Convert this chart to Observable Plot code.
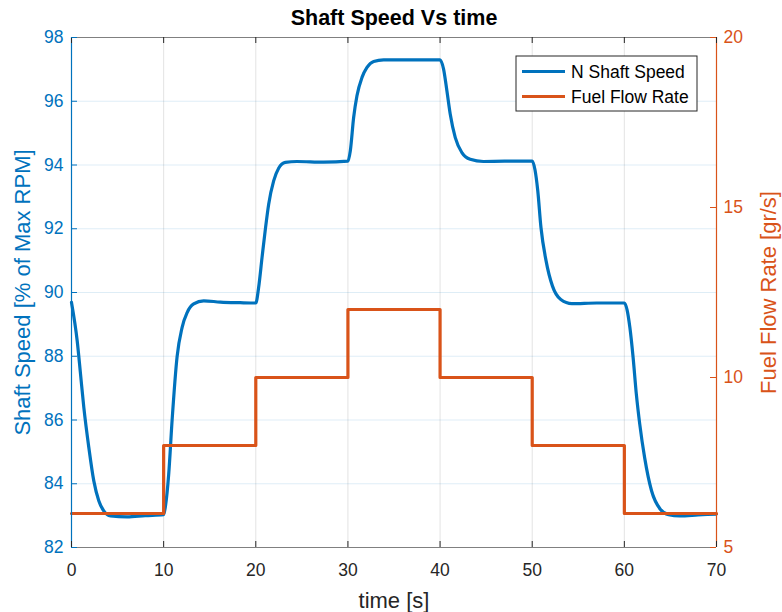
<!DOCTYPE html>
<html>
<head>
<meta charset="utf-8">
<script src="https://cdn.jsdelivr.net/npm/d3@7"></script>
<script src="https://cdn.jsdelivr.net/npm/@observablehq/plot@0.6"></script>
<style>
  html, body { margin: 0; padding: 0; background: #fff; }
</style>
</head>
<body>
<div id="chart"></div>
<script>
// ---- data ----
const speedT = [0, 0.62, 0.98, 1.34, 1.88, 2.42, 2.96, 3.5, 4.23, 6.04, 8, 10,
  10.2, 10.55, 10.92, 11.46, 12.0, 12.55, 13.26, 14.35, 16.16, 18.3,
  20, 20.31, 20.68, 21.04, 21.4, 21.94, 22.48, 23.2, 24.47, 27.36,
  30, 30.26, 30.62, 30.98, 31.53, 32.07, 32.79, 33.87, 37,
  40, 40.38, 40.74, 41.1, 41.65, 42.37, 43.27, 44.7, 47,
  50, 50.3, 50.6, 50.95, 51.5, 52.2, 53.1, 54.3, 57,
  60, 60.3, 60.6, 60.95, 61.3, 61.67, 62.2, 62.95, 63.9, 64.8, 66, 68, 70];
const speedV = [89.69, 88.48, 87.44, 86.39, 85.14, 84.09, 83.47, 83.15, 82.99, 82.96, 83.0, 83.03,
  83.3, 84.3, 86.0, 87.99, 88.9, 89.37, 89.64, 89.74, 89.70, 89.68,
  89.67, 90.16, 91.1, 91.99, 92.77, 93.5, 93.9, 94.08, 94.11, 94.09,
  94.12, 94.45, 95.49, 96.17, 96.75, 97.06, 97.25, 97.30, 97.30,
  97.30, 97.01, 96.33, 95.6, 94.86, 94.39, 94.18, 94.11, 94.12,
  94.12, 93.85, 93.2, 92.04, 91.0, 90.2, 89.78, 89.65, 89.67,
  89.67, 89.45, 88.9, 87.96, 86.81, 85.87, 84.82, 83.78, 83.2, 83.03, 82.99, 83.02, 83.05];

const fuelT = [0, 10, 20, 30, 40, 50, 60, 70];
const fuelV = [6, 8, 10, 12, 10, 8, 6, 6];

const xTicks = [0, 10, 20, 30, 40, 50, 60, 70];
const leftTicks = [82, 84, 86, 88, 90, 92, 94, 96, 98];
const rightTicks = [5, 10, 15, 20];
const leftDomain = [82, 98];
const rightDomain = [5, 20];

const titleText = "Shaft Speed Vs time";
const xLabel = "time [s]";
const leftLabel = "Shaft Speed [% of Max RPM]";
const rightLabel = "Fuel Flow Rate [gr/s]";
const seriesNames = ["N Shaft Speed", "Fuel Flow Rate"];

// ---- build tables ----
const BLUE = "#0072BD", ORANGE = "#D95319";
const speed = speedT.map((t, i) => ({t, v: speedV[i]}));
const fuel = fuelT.map((t, i) => ({t, f: fuelV[i]}));
// map the right-hand (fuel) scale onto the left y scale
const toLeft = f => leftDomain[0] + (f - rightDomain[0]) * (leftDomain[1] - leftDomain[0]) / (rightDomain[1] - rightDomain[0]);

const W = 782, H = 612;
const mL = 71, mR = 66, mT = 37, mB = 65;
const innerW = W - mL - mR, innerH = H - mT - mB;
const FONT = "'Liberation Sans', Arial, Helvetica, sans-serif";
const TICK = 6;

const chart = Plot.plot({
  width: W, height: H,
  marginLeft: mL, marginRight: mR, marginTop: mT, marginBottom: mB,
  style: {fontFamily: FONT, background: "#fff", overflow: "visible"},
  x: {domain: [0, 70]},
  y: {domain: leftDomain},
  marks: [
    Plot.gridX(xTicks, {stroke: "#262626", strokeOpacity: 0.13, strokeWidth: 1}),
    Plot.gridY(leftTicks, {stroke: BLUE, strokeOpacity: 0.13, strokeWidth: 1}),
    // data
    Plot.line(speed, {x: "t", y: "v", stroke: BLUE, strokeWidth: 3.2, curve: "monotone-x"}),
    Plot.line(fuel, {x: "t", y: d => toLeft(d.f), stroke: ORANGE, strokeWidth: 3.2, curve: "step-after"}),
    // box lines
    Plot.ruleY([leftDomain[0]], {stroke: "#808080", strokeWidth: 1.2}),
    Plot.ruleY([leftDomain[1]], {stroke: "#808080", strokeWidth: 1.2}),
    Plot.ruleX([0], {stroke: BLUE, strokeWidth: 1.2}),
    Plot.ruleX([70], {stroke: ORANGE, strokeWidth: 1.2}),
    // inward tick marks
    Plot.ruleX(xTicks, {stroke: "#262626", strokeWidth: 1, insetTop: innerH - TICK}),
    Plot.ruleX(xTicks, {stroke: "#262626", strokeWidth: 1, insetBottom: innerH - TICK}),
    Plot.ruleY(leftTicks, {stroke: BLUE, strokeWidth: 1, insetRight: innerW - TICK}),
    Plot.ruleY(rightTicks.map(toLeft), {stroke: ORANGE, strokeWidth: 1, insetLeft: innerW - TICK}),
    // tick labels
    Plot.axisX({ticks: xTicks, tickSize: 0, tickPadding: 16, fontSize: 17.5, color: "#262626", label: null}),
    Plot.axisY({anchor: "left", ticks: leftTicks, tickSize: 0, tickPadding: 8, fontSize: 17.5, color: BLUE, label: null}),
    Plot.axisY({anchor: "right", ticks: rightTicks.map(toLeft), tickFormat: (d, i) => String(rightTicks[i]),
      tickSize: 0, tickPadding: 7, fontSize: 17.5, color: ORANGE, label: null}),
    // titles
    Plot.text([titleText], {text: d => d, frameAnchor: "top", dy: -19, fontSize: 21.5, fontWeight: "bold", fill: "#000", textAnchor: "middle", lineAnchor: "middle"}),
    Plot.text([xLabel], {text: d => d, frameAnchor: "bottom", dy: 53, fontSize: 22, fill: "#262626", textAnchor: "middle", lineAnchor: "middle"}),
    Plot.text([leftLabel], {text: d => d, frameAnchor: "left", dx: -49, rotate: -90, fontSize: 22, fill: BLUE, textAnchor: "middle", lineAnchor: "middle"}),
    Plot.text([rightLabel], {text: d => d, frameAnchor: "right", dx: 52, rotate: -90, fontSize: 22, fill: ORANGE, textAnchor: "middle", lineAnchor: "middle"})
  ]
});

document.getElementById("chart").appendChild(chart);

// ---- legend (inside the axes, top right) ----
const svg = d3.select(chart);
const lg = svg.append("g").attr("transform", "translate(516,56)")
  .attr("text-anchor", "start");
lg.append("rect").attr("width", 181).attr("height", 55)
  .style("fill", "#fff").style("stroke", "#262626").style("stroke-width", "1px");
[BLUE, ORANGE].forEach((c, i) => {
  const y = 15.5 + i * 25;
  lg.append("line").attr("x1", 6).attr("x2", 49).attr("y1", y).attr("y2", y)
    .style("stroke", c).style("stroke-width", "3.2px");
  lg.append("text").attr("x", 55).attr("y", y).attr("dy", "0.35em")
    .attr("text-anchor", "start")
    .style("font-size", "17.5px").style("font-family", FONT).style("fill", "#000")
    .text(seriesNames[i]);
});
</script>
</body>
</html>
